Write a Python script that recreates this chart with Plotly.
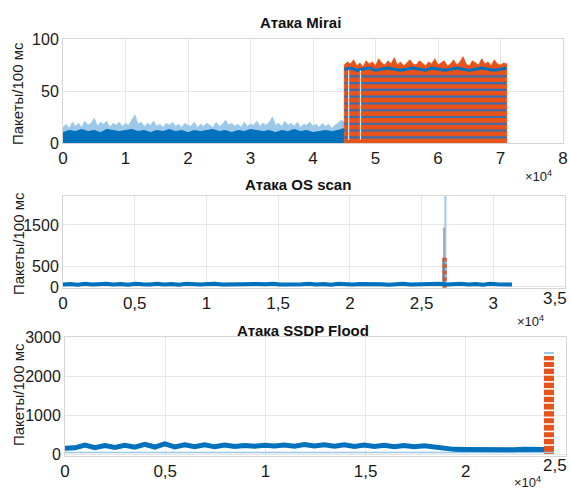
import numpy as np
import plotly.graph_objects as go

W, H = 571, 489
BLUE = "#0072BD"
LIGHT_BLUE = "#9CC9EA"
ORANGE = "#E8521B"
GREY = "#8A8A8A"
FONT = "Liberation Sans, Arial, sans-serif"

# ---------------- DATA (time in units of 1e4 samples) ----------------
# Mirai
mirai_normal_start, mirai_normal_end = 0.0, 4.5
mirai_normal_peak = [15, 18, 14, 20, 16, 19, 15, 21, 17, 19,
                     24, 16, 20, 18, 21, 15, 19, 17, 20, 16,
                     19, 17, 22, 27, 18, 20, 16, 19, 17, 21,
                     16, 18, 15, 19, 17, 20, 16, 18, 15, 19,
                     17, 16, 20, 15, 18, 16, 19, 17, 15, 20,
                     16, 18, 22, 17, 19, 16, 18, 15, 20, 16,
                     18, 17, 21, 16, 19, 17, 20, 25, 17, 19,
                     16, 21, 17, 19, 16, 20, 15, 18, 17, 20,
                     16, 18, 15, 19, 16, 18, 14, 17, 19, 22,
                     20]
mirai_normal_core = [10, 12, 11, 13, 11, 12, 10, 13, 12, 11,
                     12, 13, 11, 12, 10, 12, 11, 13, 11, 12,
                     10, 12, 11, 12, 13, 11, 12, 10, 12, 11,
                     13, 12, 11, 12, 10, 12, 11, 13, 11, 12,
                     10, 11, 12, 11, 12, 14]
mirai_attack_start, mirai_attack_end = 4.5, 7.1
mirai_attack_peak = [75, 78, 76, 80, 74, 77, 73, 79, 76, 78,
                     74, 81, 77, 75, 79, 76, 82, 75, 78, 74,
                     77, 80, 76, 75, 79, 77, 74, 78, 76, 81,
                     75, 77, 79, 74, 76, 80, 75, 78, 83, 76,
                     74, 79, 77, 75, 81, 76, 78, 74, 80, 76,
                     75, 77, 76]
mirai_attack_fringe = [71, 72, 70, 71, 72, 70, 71, 72, 71, 70,
                       71, 72, 71, 70, 72, 71, 70, 71, 72, 71,
                       70, 71, 72, 71, 70, 71, 72]
mirai_stripe_levels = [5.5, 12, 18.5, 25, 31.5, 38, 44.5, 51, 57.5, 64]
mirai_gap_t = [4.57, 4.76]
mirai_gap_top = 70

# OS scan
os_start, os_end = 0.0, 3.13
os_band = [60, 70, 55, 75, 60, 65, 80, 60, 70, 55,
           75, 65, 60, 80, 60, 70, 55, 75, 65, 60,
           70, 80, 60, 65, 55, 75, 60, 70, 65, 80,
           60, 55, 70, 65, 75, 60, 70, 55, 80, 65,
           60, 70, 75, 60, 65, 55, 70, 80, 60, 65,
           70, 55, 75, 60, 65, 80, 60, 70, 55, 75,
           65, 70, 60]
os_spike_t = 2.66
os_spike_cap = 2400
os_spike_grey = 1440
os_attack_top = 700
os_attack_marks = [30, 190, 350, 510, 660]

# SSDP Flood
ssdp_start, ssdp_end = 0.0, 2.39
ssdp_band = [150, 160, 230, 165, 215, 170, 225, 175, 250, 180,
             260, 185, 240, 190, 235, 185, 230, 195, 220, 200,
             225, 205, 230, 200, 245, 205, 235, 200, 240, 195,
             230, 195, 225, 190, 220, 185, 210, 175, 150, 120,
             115, 110, 120, 105, 115, 110, 120, 105, 115]
ssdp_floor = 40
ssdp_attack_start, ssdp_attack_end = 2.39, 2.44
ssdp_attack_top = 2510
ssdp_attack_cap = 2590
ssdp_dash_levels = [2380, 2210, 2030, 1850, 1670, 1490, 1310, 1120,
                    940, 770, 580, 410, 230]

# tick definitions
mirai_xticks = [0, 1, 2, 3, 4, 5, 6, 7, 8]
mirai_yticks = [0, 50, 100]
os_xticks = [0, 0.5, 1, 1.5, 2, 2.5, 3, 3.5]
os_yticks = [0, 500, 1500]
ssdp_xticks = [0, 0.5, 1, 1.5, 2, 2.5]
ssdp_yticks = [0, 1000, 2000, 3000]


def fmt(v):
    return ("%g" % v).replace(".", ",")


def labels(vals, drop_last=False):
    out = [fmt(v) for v in vals]
    if drop_last:
        out[-1] = " "   # drawn separately so it stays inside the page
    return out


# ---------------- FIGURE ----------------
fig = go.Figure()

# --- Mirai (axes x / y)
t = np.linspace(mirai_normal_start, mirai_normal_end, len(mirai_normal_peak))
fig.add_trace(go.Scatter(x=t, y=mirai_normal_peak, mode="lines", fill="tozeroy",
                         line=dict(color=LIGHT_BLUE, width=0.8), fillcolor=LIGHT_BLUE,
                         xaxis="x", yaxis="y", hoverinfo="skip"))
t = np.linspace(mirai_normal_start, mirai_normal_end, len(mirai_normal_core))
fig.add_trace(go.Scatter(x=t, y=mirai_normal_core, mode="lines", fill="tozeroy",
                         line=dict(color=BLUE, width=1), fillcolor=BLUE,
                         xaxis="x", yaxis="y", hoverinfo="skip"))
t = np.linspace(mirai_attack_start, mirai_attack_end, len(mirai_attack_peak))
fig.add_trace(go.Scatter(x=np.r_[mirai_attack_start, t, mirai_attack_end],
                         y=np.r_[0, mirai_attack_peak, 0], mode="lines", fill="toself",
                         line=dict(color=ORANGE, width=0.8), fillcolor=ORANGE,
                         xaxis="x", yaxis="y", hoverinfo="skip"))
t = np.linspace(mirai_attack_start, mirai_attack_end, len(mirai_attack_fringe))
fig.add_trace(go.Scatter(x=t, y=mirai_attack_fringe, mode="lines",
                         line=dict(color=BLUE, width=3),
                         xaxis="x", yaxis="y", hoverinfo="skip"))
sx, sy = [], []
for L in mirai_stripe_levels:
    sx += [mirai_attack_start, mirai_attack_end, None]
    sy += [L, L, None]
fig.add_trace(go.Scatter(x=sx, y=sy, mode="lines", line=dict(color="#3A6EB0", width=2.2),
                         xaxis="x", yaxis="y", hoverinfo="skip"))
gx, gy = [], []
for g in mirai_gap_t:
    gx += [g, g, None]
    gy += [3, mirai_gap_top, None]
fig.add_trace(go.Scatter(x=gx, y=gy, mode="lines", line=dict(color="rgba(255,255,255,0.85)", width=1.2),
                         xaxis="x", yaxis="y", hoverinfo="skip"))

# --- OS scan (axes x2 / y2)
t = np.linspace(os_start, os_end, len(os_band))
fig.add_trace(go.Scatter(x=[os_spike_t + 0.006, os_spike_t + 0.006], y=[0, os_spike_cap], mode="lines",
                         line=dict(color=LIGHT_BLUE, width=2), xaxis="x2", yaxis="y2", hoverinfo="skip"))
fig.add_trace(go.Scatter(x=[os_spike_t - 0.004, os_spike_t - 0.004], y=[0, os_spike_grey], mode="lines",
                         line=dict(color=GREY, width=1.3), xaxis="x2", yaxis="y2", hoverinfo="skip"))
fig.add_trace(go.Bar(x=[os_spike_t], y=[os_attack_top], width=0.028, marker=dict(color=BLUE, line=dict(width=0)),
                     xaxis="x2", yaxis="y2", hoverinfo="skip"))
fig.add_trace(go.Scatter(x=[os_spike_t] * len(os_attack_marks), y=os_attack_marks, mode="markers",
                         marker=dict(symbol="square", color=ORANGE, size=4, line=dict(width=0)),
                         xaxis="x2", yaxis="y2", hoverinfo="skip"))
fig.add_trace(go.Scatter(x=t, y=os_band, mode="lines", line=dict(color=BLUE, width=4),
                         xaxis="x2", yaxis="y2", hoverinfo="skip"))

# --- SSDP (axes x3 / y3)
fig.add_trace(go.Scatter(x=[ssdp_start, ssdp_attack_end], y=[ssdp_floor, ssdp_floor], mode="lines",
                         line=dict(color=LIGHT_BLUE, width=1.5), xaxis="x3", yaxis="y3", hoverinfo="skip"))
t = np.linspace(ssdp_start, ssdp_end, len(ssdp_band))
fig.add_trace(go.Scatter(x=t, y=ssdp_band, mode="lines", line=dict(color=BLUE, width=5),
                         xaxis="x3", yaxis="y3", hoverinfo="skip"))
mid = (ssdp_attack_start + ssdp_attack_end) / 2
fig.add_trace(go.Scatter(x=[ssdp_attack_start, ssdp_attack_end], y=[ssdp_attack_cap] * 2, mode="lines",
                         line=dict(color=LIGHT_BLUE, width=2), xaxis="x3", yaxis="y3", hoverinfo="skip"))
fig.add_trace(go.Bar(x=[mid], y=[ssdp_attack_top], width=ssdp_attack_end - ssdp_attack_start,
                     marker=dict(color=ORANGE, line=dict(width=0)), xaxis="x3", yaxis="y3", hoverinfo="skip"))
fig.add_trace(go.Scatter(x=[mid] * len(ssdp_dash_levels), y=ssdp_dash_levels, mode="markers",
                         marker=dict(symbol="line-ew", size=10, line=dict(color="white", width=1.6)),
                         xaxis="x3", yaxis="y3", hoverinfo="skip"))


# ---------------- LAYOUT ----------------
def px_dom_x(a, b):
    return [a / W, b / W]


def px_dom_y(top, bottom):
    return [1 - bottom / H, 1 - top / H]


axis_common = dict(showgrid=True, gridcolor="#E6E6E6", gridwidth=1, zeroline=False,
                   showline=True, linecolor="#D6D6D6", linewidth=1, mirror=True, ticks="",
                   fixedrange=True, automargin=False, ticklabeloverflow="allow")
xfont = dict(family=FONT, size=17, color="#1a1a1a")
yfont = dict(family=FONT, size=16, color="#1a1a1a")

fig.update_layout(
    width=W, height=H, autosize=False,
    margin=dict(l=0, r=0, t=0, b=0, pad=0),
    paper_bgcolor="white", plot_bgcolor="white",
    showlegend=False, barmode="overlay",
    xaxis=dict(domain=px_dom_x(63, 563), range=[0, 8], anchor="y",
               tickvals=mirai_xticks, ticktext=labels(mirai_xticks), tickfont=xfont, **axis_common),
    yaxis=dict(domain=px_dom_y(39, 143), range=[0, 100], anchor="x",
               tickvals=mirai_yticks, ticktext=labels(mirai_yticks), tickfont=yfont, **axis_common),
    xaxis2=dict(domain=px_dom_x(63, 565), range=[0, 3.5], anchor="y2",
                tickvals=os_xticks, ticktext=labels(os_xticks, True), tickfont=xfont, **axis_common),
    yaxis2=dict(domain=px_dom_y(196, 288), range=[-25, 2200], anchor="x2",
                tickvals=os_yticks, ticktext=labels(os_yticks), tickfont=yfont, **axis_common),
    xaxis3=dict(domain=px_dom_x(65, 566), range=[0, 2.5], anchor="y3",
                tickvals=ssdp_xticks, ticktext=labels(ssdp_xticks, True), tickfont=xfont, **axis_common),
    yaxis3=dict(domain=px_dom_y(337, 456), range=[-50, 3000], anchor="x3",
                tickvals=ssdp_yticks, ticktext=labels(ssdp_yticks), tickfont=yfont, **axis_common),
)

ann = []
titles = [("Атака Mirai", 300, 23), ("Атака OS scan", 298, 185), ("Атака SSDP Flood", 303, 330)]
for text, x, y in titles:
    ann.append(dict(text="<b>%s</b>" % text, x=x / W, y=1 - y / H, xref="paper", yref="paper",
                    showarrow=False, xanchor="center", yanchor="middle",
                    font=dict(family=FONT, size=15, color="#111111")))
for y in [94, 244, 395]:
    ann.append(dict(text="Пакеты/100 мс", x=18 / W, y=1 - y / H, xref="paper", yref="paper",
                    showarrow=False, textangle=-90, xanchor="center", yanchor="middle",
                    font=dict(family=FONT, size=15, color="#1a1a1a")))
for x, y in [(538, 176), (530, 321), (527, 482)]:
    ann.append(dict(text="×10<sup>4</sup>", x=x / W, y=1 - y / H, xref="paper", yref="paper",
                    showarrow=False, xanchor="center", yanchor="middle",
                    font=dict(family=FONT, size=13, color="#1a1a1a")))
# right-most x tick labels of panels 2 and 3, kept inside the page
for text, y in [(fmt(os_xticks[-1]), 298), (fmt(ssdp_xticks[-1]), 465)]:
    ann.append(dict(text=text, x=569 / W, y=1 - y / H, xref="paper", yref="paper",
                    showarrow=False, xanchor="right", yanchor="middle", font=xfont))
fig.update_layout(annotations=ann)

fig.write_html("out.html", config={"displayModeBar": False},
               post_script="document.body.style.margin='0';document.body.style.overflow='hidden';")
